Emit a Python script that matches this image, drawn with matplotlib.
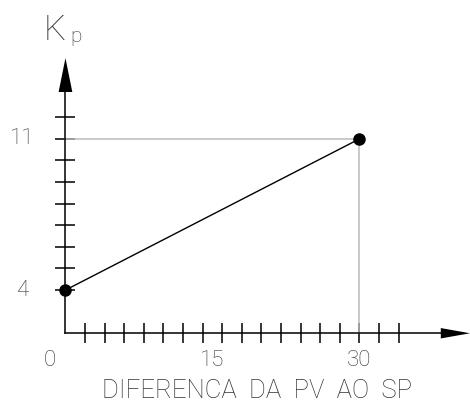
import numpy as np
import matplotlib.pyplot as plt

# Kp vs difference between PV and SP
kp_x = [0, 30]
kp_y = [4, 11]
x_tick_pos = np.arange(2, 35, 2)
y_tick_pos = np.arange(4, 13, 1)
x_labels = [0, 15, 30]
y_labels = [4, 11]
x_title = 'DIFERENCA  DA  PV  AO  SP'

txt = dict(family=['Roboto', 'DejaVu Sans'], fontweight='light', color='#333333')

fig = plt.figure(figsize=(4.7, 4.0), dpi=100)
ax = fig.add_axes([0, 0, 1, 1])
ax.set_xlim(-6.68, 41.28)
ax.set_ylim(-1.09, 17.43)

# axes drawn as CAD-like lines crossing at (0, 2)
for s in ['top', 'right']:
    ax.spines[s].set_visible(False)
ax.spines['left'].set_position(('data', 0))
ax.spines['bottom'].set_position(('data', 2))
ax.spines['left'].set_bounds(2, 13.3)
ax.spines['bottom'].set_bounds(0, 38.5)
ax.spines['left'].set_linewidth(1.1)
ax.spines['bottom'].set_linewidth(1.1)

ax.set_xticks(x_tick_pos)
ax.set_yticks(y_tick_pos)
ax.set_xticklabels([])
ax.set_yticklabels([])
ax.tick_params(axis='x', direction='inout', length=14, width=1.1)
ax.tick_params(axis='y', direction='inout', length=15, width=1.1)

# arrow heads
ax.fill([-0.7, 0, 0.7], [13.17, 14.74, 13.17], color='black', lw=0)
ax.fill([38.3, 41.28, 38.3], [2.24, 2, 1.76], color='black', lw=0)

# guide lines
ax.plot([0, kp_x[1]], [kp_y[1], kp_y[1]], color='#bbbbbb', lw=1.1)
ax.plot([kp_x[1], kp_x[1]], [2, kp_y[1]], color='#bbbbbb', lw=1.1)

ax.plot(kp_x, kp_y, color='black', lw=1.0, marker='o', ms=8)

for v in x_labels:
    off = -1.6 if v == 0 else 0
    ax.text(v + off, 0.76, str(v), ha='center', va='center', fontsize=16, **txt)
for v in y_labels:
    ax.text(-4.4, v, str(v), ha='center', va='center', fontsize=16, **txt)

ax.text(19.6, -1.0, x_title, ha='center', va='baseline', fontsize=18.5, **txt)
ax.text(-1.12, 15.57, 'K', ha='center', va='baseline', fontsize=25, **txt)
ax.text(0.46, 15.48, 'p', ha='left', va='baseline', fontsize=15, **txt)

fig.savefig('out.png', dpi=100)
